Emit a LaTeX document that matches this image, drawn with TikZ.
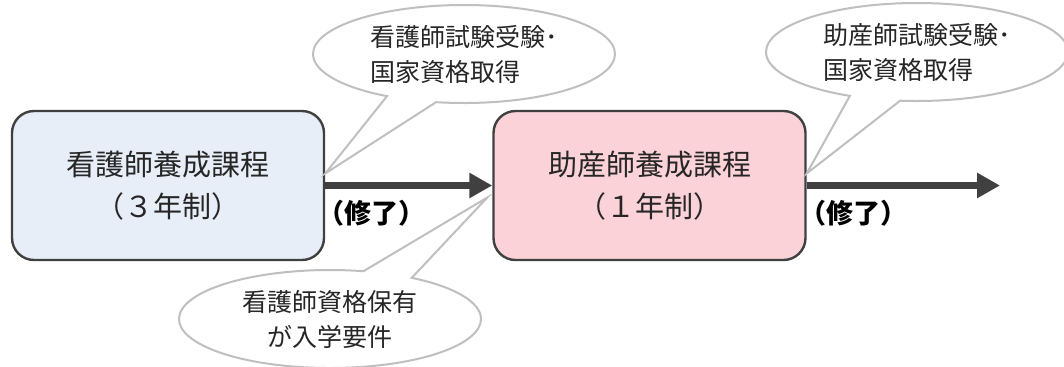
\documentclass[tikz,border=0pt]{standalone}
\usepackage{fontspec}
\setmainfont{Noto Sans CJK JP}
\usepackage{tikz}
\usetikzlibrary{shapes.callouts,arrows.meta,calc}
\definecolor{boxline}{HTML}{404040}
\definecolor{nursefill}{HTML}{E8EEF7}
\definecolor{midfill}{HTML}{FAD2D8}
\definecolor{bubbleline}{HTML}{BFBFBF}
\tikzstyle{course} = [draw=boxline, line width=1.2pt, rounded corners=11pt, minimum width=156pt, minimum height=74.5pt, align=center, text=black!85, font=\fontsize{14.5}{21}\selectfont]
\tikzstyle{bubble} = [ellipse callout, draw=bubbleline, line width=1pt, fill=white, inner sep=0pt, callout pointer arc=20, minimum width=151pt, minimum height=49pt, text=black!85, font=\fontsize{12.5}{17.5}\selectfont]
\tikzstyle{done} = [inner sep=0pt, anchor=west, text=black, font=\fontsize{13.5}{15}\selectfont\bfseries]
\tikzstyle{flow} = [line width=3.5pt, draw=boxline, -{Triangle[length=11.5pt,width=12pt]}]

\begin{document}
\begin{tikzpicture}
    [x=0.5pt,y=-0.5pt]
      \useasboundingbox (0,0) rectangle (1064,366);
      \node [course, fill=nursefill](nurse) at (168,185.5) {看護師養成課程\\（３年制）};
      \node [course, fill=midfill](midwife) at (649.5,185.5) {助産師養成課程\\（１年制）};
      \coordinate (out) at (1000,185.5);

      \foreach \from/\to in {nurse/midwife,midwife/out}
        \draw [flow] (\from) -- (\to);

      \node [done](done1) at ($(nurse.east)+(-8,28)$) {（修了）};
      \node [done](done2) at ($(midwife.east)+(-8,28)$) {（修了）};

      % speech bubbles
      \node [bubble, align=left, callout absolute pointer={($(nurse.east)+(0,-12)$)}](exam1) at (464,54) {看護師試験受験･\\国家資格取得};
      \node [bubble, align=left, callout absolute pointer={($(midwife.east)+(0,-12)$)}](exam2) at (917,52) {助産師試験受験･\\国家資格取得};
      \node [bubble, align=center, callout absolute pointer={($(midwife.west)+(-5,12)$)}](entry) at (330,319) {看護師資格保有\\が入学要件};
    \end{tikzpicture}
\end{document}
